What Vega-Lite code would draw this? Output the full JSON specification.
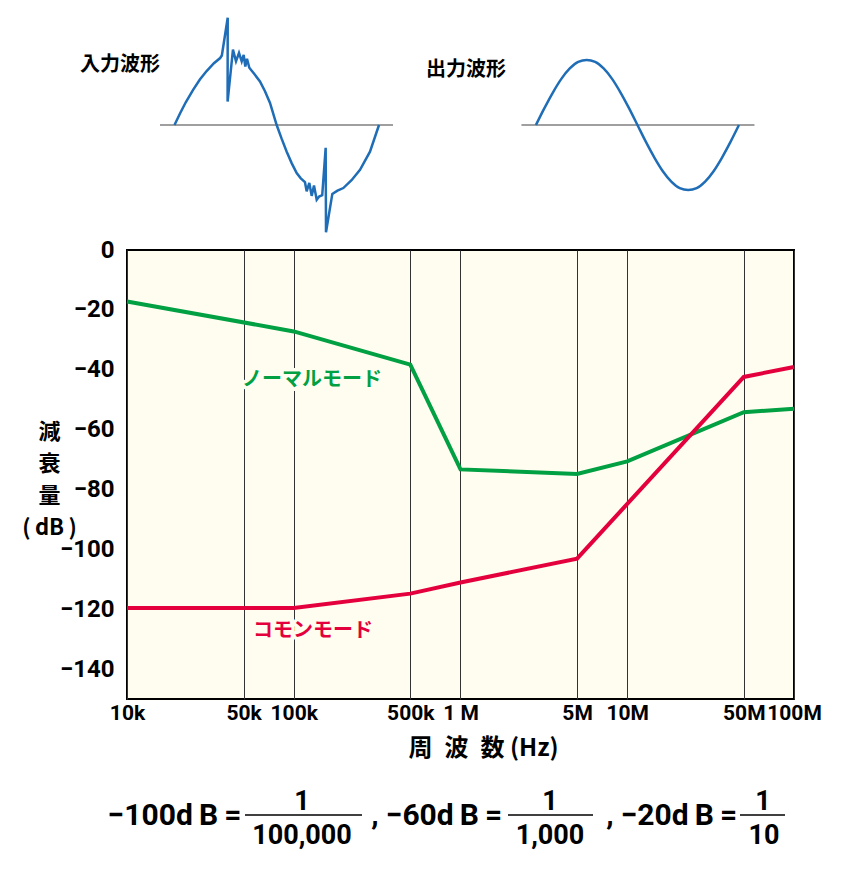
{
  "$schema": "https://vega.github.io/schema/vega-lite/v6.json",
  "autosize": {"type": "none"},
  "padding": {"left": 127, "top": 0, "right": 726, "bottom": 869},
  "background": "white",
  "bounds": "flush",
  "spacing": 10,
  "config": {"view": {"stroke": null}},
  "datasets": {
    "waveAxes": [
      {"x1": -25.7, "x2": 387.5, "amp": 0},
      {"x1": 615.3, "x2": 1028.5, "amp": 0}
    ],
    "inWave": [
      {"i": 0, "x": 0, "amp": 0},
      {"i": 1, "x": 10, "amp": 0.18},
      {"i": 2, "x": 20, "amp": 0.35},
      {"i": 3, "x": 33, "amp": 0.54},
      {"i": 4, "x": 45, "amp": 0.70},
      {"i": 5, "x": 57, "amp": 0.83},
      {"i": 6, "x": 70, "amp": 0.95},
      {"i": 7, "x": 81, "amp": 1.03},
      {"i": 8, "x": 84, "amp": 1.07},
      {"i": 9, "x": 94.4, "amp": 1.65},
      {"i": 10, "x": 94.2, "amp": 0.36},
      {"i": 11, "x": 103.7, "amp": 1.16},
      {"i": 12, "x": 109.1, "amp": 0.98},
      {"i": 13, "x": 114.4, "amp": 1.11},
      {"i": 14, "x": 119.2, "amp": 0.98},
      {"i": 15, "x": 122.7, "amp": 1.08},
      {"i": 16, "x": 125.6, "amp": 0.90},
      {"i": 17, "x": 128.6, "amp": 1.02},
      {"i": 18, "x": 132.7, "amp": 0.88},
      {"i": 19, "x": 142, "amp": 0.78},
      {"i": 20, "x": 151.6, "amp": 0.67},
      {"i": 21, "x": 160.5, "amp": 0.52},
      {"i": 22, "x": 169.4, "amp": 0.34},
      {"i": 23, "x": 181.2, "amp": 0},
      {"i": 24, "x": 190, "amp": -0.21},
      {"i": 25, "x": 199, "amp": -0.41},
      {"i": 26, "x": 208, "amp": -0.59},
      {"i": 27, "x": 216.7, "amp": -0.74},
      {"i": 28, "x": 224, "amp": -0.82},
      {"i": 29, "x": 231.4, "amp": -0.88},
      {"i": 30, "x": 234.4, "amp": -1.02},
      {"i": 31, "x": 239.1, "amp": -0.89},
      {"i": 32, "x": 243.3, "amp": -1.09},
      {"i": 33, "x": 247.4, "amp": -0.93},
      {"i": 34, "x": 252.2, "amp": -1.15},
      {"i": 35, "x": 256.5, "amp": -1.10},
      {"i": 36, "x": 262, "amp": -1.08},
      {"i": 37, "x": 268.1, "amp": -0.35},
      {"i": 38, "x": 268.7, "amp": -1.65},
      {"i": 39, "x": 279.9, "amp": -1.06},
      {"i": 40, "x": 289, "amp": -1.01},
      {"i": 41, "x": 299.4, "amp": -0.97},
      {"i": 42, "x": 314, "amp": -0.85},
      {"i": 43, "x": 329, "amp": -0.69},
      {"i": 44, "x": 346.7, "amp": -0.41},
      {"i": 45, "x": 362.7, "amp": 0}
    ],
    "outWave": [
      {"x": 641, "amp": 0}, {"x": 656, "amp": 0.26}, {"x": 671, "amp": 0.5},
      {"x": 686, "amp": 0.71}, {"x": 701, "amp": 0.87}, {"x": 716, "amp": 0.97},
      {"x": 731, "amp": 1}, {"x": 746, "amp": 0.97}, {"x": 761, "amp": 0.87},
      {"x": 776, "amp": 0.71}, {"x": 791, "amp": 0.5}, {"x": 806, "amp": 0.26},
      {"x": 821, "amp": 0}, {"x": 836, "amp": -0.26}, {"x": 851, "amp": -0.5},
      {"x": 866, "amp": -0.71}, {"x": 881, "amp": -0.87}, {"x": 896, "amp": -0.97},
      {"x": 911, "amp": -1}, {"x": 926, "amp": -0.97}, {"x": 941, "amp": -0.87},
      {"x": 956, "amp": -0.71}, {"x": 971, "amp": -0.5}, {"x": 986, "amp": -0.26},
      {"x": 1001, "amp": 0}
    ],
    "waveLabels": [
      {"x": -167.6, "amp": 0.928, "label": "入力波形"},
      {"x": 446, "amp": 0.84, "label": "出力波形"}
    ],
    "curves": [
      {"mode": "normal", "freq": 10000, "db": -17.2},
      {"mode": "normal", "freq": 100000, "db": -27.2},
      {"mode": "normal", "freq": 500000, "db": -38.3},
      {"mode": "normal", "freq": 1000000, "db": -73.3},
      {"mode": "normal", "freq": 5000000, "db": -74.8},
      {"mode": "normal", "freq": 10000000, "db": -70.6},
      {"mode": "normal", "freq": 50000000, "db": -54.2},
      {"mode": "normal", "freq": 100000000, "db": -53},
      {"mode": "common", "freq": 10000, "db": -119.6},
      {"mode": "common", "freq": 100000, "db": -119.6},
      {"mode": "common", "freq": 500000, "db": -114.8},
      {"mode": "common", "freq": 1000000, "db": -111.1},
      {"mode": "common", "freq": 5000000, "db": -103.1},
      {"mode": "common", "freq": 50000000, "db": -42.4},
      {"mode": "common", "freq": 100000000, "db": -39.1}
    ],
    "modeLabels": [
      {"mode": "normal", "freq": 128600, "db": -43.3, "label": "ノーマルモード"},
      {"mode": "common", "freq": 130400, "db": -127.3, "label": "コモンモード"}
    ],
    "formulaMain": [
      {"t": "−100d\u2009B\u2009=", "x": 7.12, "y": 72.5},
      {"t": ",", "x": 37.18, "y": 72.5},
      {"t": "−60d\u2009B\u2009=", "x": 47.53, "y": 72.5},
      {"t": ",", "x": 72.41, "y": 72.5},
      {"t": "−20d\u2009B\u2009=", "x": 82.76, "y": 72.5}
    ],
    "formulaFrac": [
      {"t": "1", "x": 26.24, "y": 63.4},
      {"t": "100,000", "x": 26.24, "y": 84.1},
      {"t": "1", "x": 63.42, "y": 63.4},
      {"t": "1,000", "x": 63.42, "y": 84.1},
      {"t": "1", "x": 95.35, "y": 63.4},
      {"t": "10", "x": 95.5, "y": 84.1}
    ],
    "formulaBars": [
      {"x1": 17.69, "x2": 35.23, "y": 66.25},
      {"x1": 57.12, "x2": 69.87, "y": 66.25},
      {"x1": 91.9, "x2": 98.65, "y": 66.25}
    ]
  },
  "vconcat": [
    {
      "width": 667,
      "height": 240,
      "view": {"stroke": null, "fill": null},
      "layer": [
        {
          "data": {"name": "waveAxes"},
          "mark": {"type": "rule", "color": "#7f7f7f", "strokeWidth": 1.5},
          "encoding": {
            "x": {"field": "x1", "type": "quantitative", "scale": {"domain": [-84.2, 1098.6], "nice": false, "zero": false}, "axis": null},
            "x2": {"field": "x2"},
            "y": {"field": "amp", "type": "quantitative", "scale": {"domain": [-1.769, 1.923], "nice": false, "zero": false}, "axis": null}
          }
        },
        {
          "data": {"name": "inWave"},
          "mark": {"type": "line", "color": "#1f6db6", "strokeWidth": 2.5},
          "encoding": {
            "x": {"field": "x", "type": "quantitative", "scale": {"domain": [-84.2, 1098.6], "nice": false, "zero": false}, "axis": null},
            "y": {"field": "amp", "type": "quantitative", "scale": {"domain": [-1.769, 1.923], "nice": false, "zero": false}, "axis": null},
            "order": {"field": "i", "type": "quantitative"}
          }
        },
        {
          "data": {"name": "outWave"},
          "mark": {"type": "line", "color": "#1f6db6", "strokeWidth": 2.5, "interpolate": "monotone"},
          "encoding": {
            "x": {"field": "x", "type": "quantitative", "scale": {"domain": [-84.2, 1098.6], "nice": false, "zero": false}, "axis": null},
            "y": {"field": "amp", "type": "quantitative", "scale": {"domain": [-1.769, 1.923], "nice": false, "zero": false}, "axis": null}
          }
        },
        {
          "data": {"name": "waveLabels"},
          "mark": {"type": "text", "align": "left", "baseline": "middle", "font": "Noto Sans CJK JP", "fontWeight": "bold", "fontSize": 20, "color": "#000"},
          "encoding": {
            "x": {"field": "x", "type": "quantitative", "scale": {"domain": [-84.2, 1098.6], "nice": false, "zero": false}, "axis": null},
            "y": {"field": "amp", "type": "quantitative", "scale": {"domain": [-1.769, 1.923], "nice": false, "zero": false}, "axis": null},
            "text": {"field": "label"}
          }
        }
      ]
    },
    {
      "width": 667,
      "height": 449,
      "view": {"fill": "#fffdf0", "stroke": "#000", "strokeWidth": 2},
      "layer": [
        {
          "data": {"name": "curves"},
          "mark": {"type": "line", "strokeWidth": 4},
          "encoding": {
            "x": {
              "field": "freq", "type": "quantitative",
              "scale": {"type": "log", "domain": [10000, 100000000], "nice": false},
              "axis": {
                "values": [10000, 50000, 100000, 500000, 1000000, 5000000, 10000000, 50000000, 100000000],
                "grid": true, "gridColor": "#333", "gridWidth": 1,
                "ticks": false, "domain": false,
                "labelFont": "Roboto", "labelFontWeight": "bold", "labelFontSize": 21, "labelColor": "#000",
                "labelPadding": 3, "labelOverlap": false, "labelFlush": false, "labelBound": false,
                "labelExpr": "datum.value == 10000 ? '10k' : datum.value == 50000 ? '50k' : datum.value == 100000 ? '100k' : datum.value == 500000 ? '500k' : datum.value == 1000000 ? '1 M' : datum.value == 5000000 ? '5M' : datum.value == 10000000 ? '10M' : datum.value == 50000000 ? '50M' : '100M'",
                "title": "周\u2002波\u2002数 (Hz)",
                "titleFont": "Noto Sans CJK JP", "titleFontSize": 24, "titleFontWeight": "bold", "titleColor": "#000",
                "titleX": 356, "titleY": 49, "titleBaseline": "middle", "titleAlign": "center"
              }
            },
            "y": {
              "field": "db", "type": "quantitative",
              "scale": {"domain": [-150, 0], "nice": false, "zero": false},
              "axis": {
                "values": [0, -20, -40, -60, -80, -100, -120, -140],
                "grid": false, "ticks": false, "domain": false,
                "labelFont": "Roboto", "labelFontWeight": "bold", "labelFontSize": 24, "labelColor": "#000",
                "labelPadding": 13,
                "title": ["減", "衰", "量", "(\u2009dB\u2009)"],
                "titleAngle": 0, "titleAlign": "center", "titleBaseline": "middle",
                "titleX": -78, "titleY": 181, "titleLineHeight": 32,
                "titleFont": "Noto Sans CJK JP", "titleFontSize": 22, "titleFontWeight": "bold", "titleColor": "#000"
              }
            },
            "color": {
              "field": "mode", "type": "nominal",
              "scale": {"domain": ["normal", "common"], "range": ["#00a043", "#e4003c"]},
              "legend": null
            }
          }
        },
        {
          "data": {"name": "modeLabels"},
          "mark": {"type": "text", "align": "center", "baseline": "middle", "font": "Noto Sans CJK JP", "fontWeight": "bold", "fontSize": 20, "fill": "#fffdf0", "stroke": "#fffdf0", "strokeWidth": 7, "strokeJoin": "round"},
          "encoding": {
            "x": {"field": "freq", "type": "quantitative"},
            "y": {"field": "db", "type": "quantitative"},
            "text": {"field": "label"}
          }
        },
        {
          "data": {"name": "modeLabels"},
          "mark": {"type": "text", "align": "center", "baseline": "middle", "font": "Noto Sans CJK JP", "fontWeight": "bold", "fontSize": 20},
          "encoding": {
            "x": {"field": "freq", "type": "quantitative"},
            "y": {"field": "db", "type": "quantitative"},
            "text": {"field": "label"},
            "color": {"field": "mode", "type": "nominal", "legend": null}
          }
        }
      ]
    },
    {
      "width": 667,
      "height": 160,
      "view": {"stroke": null, "fill": null},
      "layer": [
        {
          "data": {"name": "formulaMain"},
          "mark": {"type": "text", "font": "Roboto", "fontWeight": "bold", "fontSize": 30, "baseline": "alphabetic", "align": "center", "color": "#000"},
          "encoding": {
            "x": {"field": "x", "type": "quantitative", "scale": {"domain": [0, 100], "nice": false, "zero": false}, "axis": null},
            "y": {"field": "y", "type": "quantitative", "scale": {"domain": [0, 100], "reverse": true, "nice": false, "zero": false}, "axis": null},
            "text": {"field": "t"}
          }
        },
        {
          "data": {"name": "formulaFrac"},
          "mark": {"type": "text", "font": "Roboto", "fontWeight": "bold", "fontSize": 27, "baseline": "alphabetic", "align": "center", "color": "#000"},
          "encoding": {
            "x": {"field": "x", "type": "quantitative", "scale": {"domain": [0, 100], "nice": false, "zero": false}, "axis": null},
            "y": {"field": "y", "type": "quantitative", "scale": {"domain": [0, 100], "reverse": true, "nice": false, "zero": false}, "axis": null},
            "text": {"field": "t"}
          }
        },
        {
          "data": {"name": "formulaBars"},
          "mark": {"type": "rule", "color": "#000", "strokeWidth": 1.5},
          "encoding": {
            "x": {"field": "x1", "type": "quantitative", "scale": {"domain": [0, 100], "nice": false, "zero": false}, "axis": null},
            "x2": {"field": "x2"},
            "y": {"field": "y", "type": "quantitative", "scale": {"domain": [0, 100], "reverse": true, "nice": false, "zero": false}, "axis": null}
          }
        }
      ]
    }
  ]
}
